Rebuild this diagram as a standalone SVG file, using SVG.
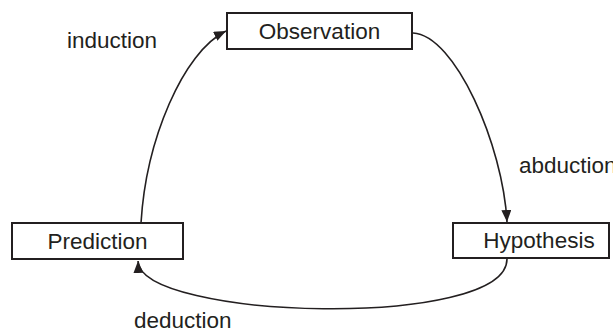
<svg xmlns="http://www.w3.org/2000/svg" width="613" height="332" viewBox="0 0 613 332">
<style>
.box{fill:#fff;stroke:#231f20;stroke-width:2}
.lbl{font-family:"Liberation Sans",Arial,sans-serif;font-size:22.5px;fill:#231f20}
.edge{fill:none;stroke:#231f20;stroke-width:1.6}
</style>
<defs>
<marker id="arr" markerUnits="userSpaceOnUse" markerWidth="14" markerHeight="12" refX="12" refY="5" orient="auto" viewBox="0 0 14 12">
<path d="M0,0 L12,5 L0,10 z" fill="#231f20"/>
</marker>
</defs>
<rect width="613" height="332" fill="#fff"/>
<g id="connectors">
<path class="edge" d="M141,223 C146,140 183,52 226,31" marker-end="url(#arr)"/>
<path class="edge" d="M413,33 C455,35 503,145 507,222" marker-end="url(#arr)"/>
<path class="edge" d="M507,259 C507,330 140,320 138,261" marker-end="url(#arr)"/>
</g>
<g id="observation">
<rect class="box" x="227" y="13" width="185" height="36"/>
<text class="lbl" x="319.5" y="39" text-anchor="middle">Observation</text>
</g>
<g id="prediction">
<rect class="box" x="12" y="223" width="171" height="36"/>
<text class="lbl" x="97.5" y="249" text-anchor="middle">Prediction</text>
</g>
<g id="hypothesis">
<rect class="box" x="453" y="223" width="156" height="35"/>
<text class="lbl" x="539" y="248" text-anchor="middle">Hypothesis</text>
</g>
<g id="labels">
<text class="lbl" x="67" y="48">induction</text>
<text class="lbl" x="519" y="173">abduction</text>
<text class="lbl" x="134" y="328">deduction</text>
</g>
</svg>
